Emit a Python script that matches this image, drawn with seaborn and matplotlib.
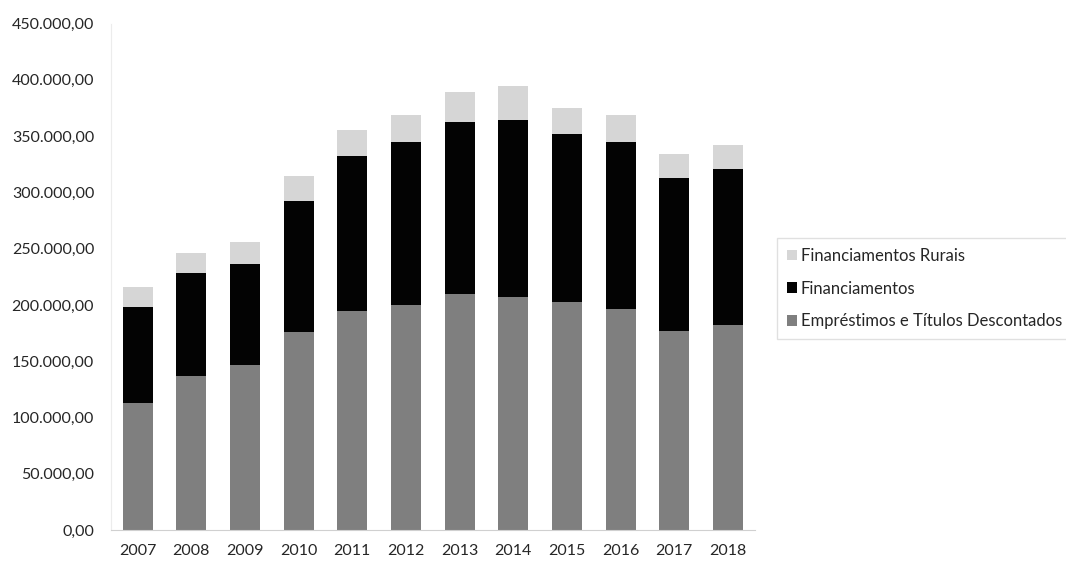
import pandas as pd
import numpy as np
import matplotlib
matplotlib.use("Agg")
import matplotlib.pyplot as plt
import seaborn as sns
from matplotlib.ticker import FuncFormatter, MultipleLocator
from matplotlib.patches import Patch

anos = ['2007', '2008', '2009', '2010', '2011', '2012',
        '2013', '2014', '2015', '2016', '2017', '2018']
emprestimos = [113200, 136600, 146400, 176000, 194400, 200300,
               210100, 207400, 203000, 196100, 176900, 182200]
financiamentos = [85300, 91600, 89800, 116700, 138300, 144600,
                  152300, 156700, 148700, 148800, 135700, 139000]
rurais = [17500, 18000, 19800, 22000, 22900, 23700,
          26900, 30600, 23700, 23700, 21900, 21000]

nomes = ['Financiamentos Rurais', 'Financiamentos', 'Empréstimos e Títulos Descontados']
cores = ['#d6d6d6', '#030303', '#7f7f7f']

df = pd.DataFrame({'ano': anos, 'emp': emprestimos, 'fin': financiamentos, 'rur': rurais})
df['tot_fin'] = df['emp'] + df['fin']
df['tot_rur'] = df['tot_fin'] + df['rur']

sns.set_style("white")
plt.rcParams['font.family'] = ['Lato', 'DejaVu Sans']

fig = plt.figure(figsize=(10.66, 5.61), dpi=100)
ax = fig.add_axes([0.104, 0.0553, 0.604, 0.9027])

# stacked bars: draw cumulative totals, tallest first
for col, cor in zip(['tot_rur', 'tot_fin', 'emp'], cores):
    sns.barplot(data=df, x='ano', y=col, color=cor, width=0.56,
                saturation=1, ax=ax, linewidth=0)

ax.set_xlim(-0.5, 11.5)
ax.set_ylim(0, 450000)
ax.yaxis.set_major_locator(MultipleLocator(50000))
ax.yaxis.set_major_formatter(FuncFormatter(
    lambda v, p: f"{v:,.2f}".replace(',', 'X').replace('.', ',').replace('X', '.')))
ax.set_xlabel('')
ax.set_ylabel('')
for s in ['top', 'right']:
    ax.spines[s].set_visible(False)
ax.spines['left'].set_color('#ececec')
ax.spines['bottom'].set_color('#d0d0d0')
ax.tick_params(axis='both', length=0, labelsize=11.5, colors='#262626')
ax.tick_params(axis='y', pad=12)
ax.tick_params(axis='x', pad=10)

handles = [Patch(facecolor=c, edgecolor='none') for c in cores]
fig.legend(handles, nomes, loc='upper left', bbox_to_anchor=(0.7285, 0.576),
           frameon=True, fontsize=12, handlelength=0.6, handleheight=0.6,
           handletextpad=0.25, labelspacing=1.0, borderpad=0.6, borderaxespad=0,
           edgecolor='#d9d9d9', fancybox=False, labelcolor='#262626')

fig.savefig('out.png', dpi=100)
